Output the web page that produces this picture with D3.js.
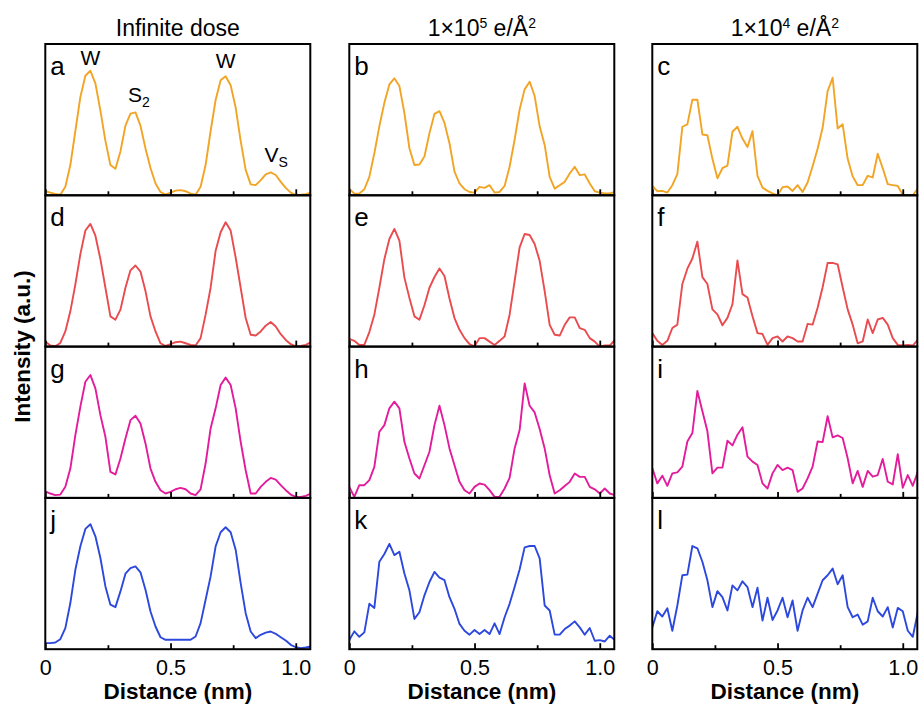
<!DOCTYPE html>
<html>
<head>
<meta charset="utf-8">
<script src="https://cdn.jsdelivr.net/npm/d3@7"></script>
<style>
  html, body { margin: 0; padding: 0; background: #fff; }
  svg { display: block; }
  text { font-family: Arial, "Liberation Sans", sans-serif; fill: #000; }
</style>
</head>
<body>
<svg id="chart" width="921" height="704"></svg>
<script>
// Line-profile sampling positions (nm)
const distance = [0.00,0.02,0.04,0.06,0.08,0.10,0.12,0.14,0.16,0.18,0.20,0.22,0.24,0.26,0.28,0.30,0.32,0.34,
  0.36,0.38,0.40,0.42,0.44,0.46,0.48,0.50,0.52,0.54,0.56,0.58,0.60,0.62,0.64,0.66,0.68,0.70,
  0.72,0.74,0.76,0.78,0.80,0.82,0.84,0.86,0.88,0.90,0.92,0.94,0.96,0.98,1.00,1.02,1.04,1.06];

const columnTitles = ["Infinite dose", "1\u00d710|5| e/\u00c5|2|", "1\u00d710|4| e/\u00c5|2|"];
const rowColors = ["#F2A424", "#E94B4F", "#E31C9C", "#2D48DD"];
const xTickValues = [0, 0.25, 0.5, 0.75, 1.0];
const xTickLabels = ["0", "", "0.5", "", "1.0"];

// Normalised intensity profiles (a.u.), one per panel
const profileA = [0.027,0.018,0.009,0.004,0.056,0.20,0.425,0.65,0.79,0.823,0.74,0.56,0.36,0.20,0.175,0.29,0.46,0.54,
  0.548,0.46,0.31,0.18,0.078,0.022,0.004,0.018,0.031,0.034,0.027,0.011,0.004,0.056,0.20,0.425,0.63,0.76,
  0.787,0.727,0.58,0.36,0.168,0.072,0.067,0.10,0.139,0.152,0.134,0.089,0.049,0.018,0.002,0.004,0.007,0.018];
const profileB = [0.044,0.011,0.011,0.04,0.122,0.278,0.456,0.611,0.733,0.773,0.722,0.544,0.311,0.2,0.204,0.256,0.411,0.538,
  0.556,0.478,0.344,0.156,0.078,0.04,0.022,0.018,0.056,0.049,0.067,0.018,0.022,0.062,0.189,0.367,0.567,0.70,
  0.751,0.656,0.456,0.333,0.122,0.044,0.067,0.089,0.144,0.189,0.133,0.138,0.078,0.027,0.018,0.013,0.013,0.022];
const profileC = [0.062,0.027,0.029,0.018,0.067,0.14,0.453,0.469,0.632,0.632,0.402,0.397,0.241,0.112,0.179,0.196,0.42,0.453,
  0.375,0.319,0.424,0.129,0.051,0.029,0.013,0.0,0.054,0.058,0.029,0.067,0.022,0.085,0.192,0.308,0.446,0.688,
  0.777,0.442,0.469,0.241,0.125,0.067,0.067,0.129,0.118,0.275,0.179,0.074,0.067,0.062,0.004,0.0,0.0,0.045];
const profileD = [0.033,0.007,0.002,0.024,0.1,0.233,0.411,0.611,0.767,0.811,0.733,0.578,0.389,0.2,0.178,0.244,0.389,0.504,
  0.536,0.496,0.367,0.2,0.1,0.022,0.004,0.016,0.029,0.033,0.022,0.011,0.007,0.056,0.211,0.389,0.633,0.756,
  0.822,0.767,0.589,0.389,0.189,0.078,0.073,0.1,0.138,0.162,0.133,0.082,0.044,0.016,0.002,0.004,0.011,0.029];
const profileE = [0.051,0.038,0.011,0.011,0.096,0.211,0.389,0.578,0.711,0.778,0.70,0.456,0.322,0.2,0.178,0.273,0.389,0.46,
  0.516,0.467,0.318,0.189,0.111,0.056,0.016,0.002,0.056,0.056,0.033,0.011,0.038,0.067,0.211,0.433,0.656,0.744,
  0.738,0.678,0.567,0.367,0.144,0.078,0.073,0.144,0.193,0.193,0.122,0.111,0.056,0.033,0.0,0.007,0.007,0.044];
const profileF = [0.089,0.038,0.011,0.038,0.123,0.145,0.414,0.515,0.582,0.694,0.459,0.414,0.246,0.213,0.141,0.19,0.28,0.57,
  0.347,0.324,0.201,0.089,0.083,0.011,0.056,0.067,0.034,0.067,0.056,0.034,0.034,0.15,0.145,0.257,0.392,0.553,
  0.553,0.544,0.392,0.246,0.145,0.022,0.034,0.179,0.089,0.179,0.19,0.145,0.056,0.011,0.007,0.011,0.007,0.045];
const profileG = [0.044,0.029,0.018,0.022,0.073,0.194,0.415,0.603,0.768,0.812,0.724,0.547,0.404,0.172,0.155,0.26,0.393,0.514,
  0.543,0.492,0.36,0.194,0.106,0.051,0.029,0.04,0.057,0.066,0.057,0.029,0.018,0.057,0.227,0.459,0.592,0.746,
  0.795,0.746,0.592,0.371,0.183,0.029,0.029,0.073,0.106,0.132,0.121,0.084,0.051,0.022,0.007,0.007,0.013,0.029];
const profileH = [0.073,0.007,0.084,0.084,0.117,0.205,0.437,0.481,0.592,0.636,0.592,0.371,0.26,0.161,0.128,0.216,0.305,0.481,
  0.609,0.481,0.327,0.216,0.106,0.051,0.029,0.073,0.095,0.088,0.051,0.007,0.007,0.062,0.132,0.327,0.448,0.757,
  0.609,0.565,0.455,0.327,0.15,0.029,0.051,0.079,0.106,0.161,0.139,0.139,0.073,0.057,0.029,0.062,0.029,0.018];
const profileI = [0.196,0.096,0.147,0.08,0.162,0.169,0.207,0.373,0.429,0.707,0.573,0.44,0.162,0.2,0.2,0.378,0.347,0.418,
  0.467,0.273,0.24,0.218,0.096,0.062,0.162,0.218,0.184,0.2,0.184,0.04,0.062,0.129,0.207,0.373,0.369,0.54,
  0.40,0.413,0.396,0.262,0.096,0.178,0.073,0.178,0.14,0.151,0.258,0.107,0.089,0.289,0.067,0.151,0.08,0.173];
const profileJ = [0.04,0.04,0.044,0.066,0.139,0.305,0.525,0.68,0.795,0.826,0.746,0.603,0.415,0.294,0.278,0.382,0.499,0.536,
  0.547,0.508,0.393,0.249,0.15,0.079,0.062,0.062,0.062,0.062,0.062,0.062,0.084,0.172,0.327,0.481,0.68,0.773,
  0.806,0.773,0.658,0.437,0.238,0.117,0.073,0.095,0.11,0.117,0.102,0.079,0.057,0.029,0.013,0.007,0.011,0.018];
const profileK = [0.06,0.118,0.082,0.111,0.30,0.273,0.578,0.629,0.696,0.622,0.644,0.50,0.389,0.20,0.244,0.356,0.444,0.511,
  0.473,0.456,0.344,0.267,0.167,0.122,0.096,0.127,0.10,0.127,0.10,0.171,0.10,0.211,0.30,0.411,0.527,0.673,
  0.682,0.682,0.60,0.289,0.256,0.096,0.096,0.133,0.156,0.184,0.144,0.096,0.14,0.056,0.06,0.051,0.089,0.06];
const profileL = [0.144,0.251,0.216,0.271,0.122,0.289,0.489,0.493,0.682,0.667,0.578,0.456,0.278,0.384,0.344,0.256,0.422,0.389,
  0.449,0.411,0.278,0.407,0.189,0.34,0.193,0.256,0.34,0.211,0.322,0.122,0.256,0.34,0.278,0.367,0.456,0.489,
  0.533,0.429,0.489,0.278,0.211,0.229,0.162,0.184,0.34,0.251,0.216,0.278,0.144,0.273,0.251,0.122,0.082,0.244];

// Peak labels on the first panel
const peakLabels = [
  { main: "W", sub: "", x: 0.18, y: 0.861 },
  { main: "S", sub: "2", x: 0.374, y: 0.617 },
  { main: "W", sub: "", x: 0.72, y: 0.841 },
  { main: "V", sub: "S", x: 0.922, y: 0.22 }
];

const panels = [
  { letter: "a", row: 0, col: 0, values: profileA },
  { letter: "b", row: 0, col: 1, values: profileB },
  { letter: "c", row: 0, col: 2, values: profileC },
  { letter: "d", row: 1, col: 0, values: profileD },
  { letter: "e", row: 1, col: 1, values: profileE },
  { letter: "f", row: 1, col: 2, values: profileF },
  { letter: "g", row: 2, col: 0, values: profileG },
  { letter: "h", row: 2, col: 1, values: profileH },
  { letter: "i", row: 2, col: 2, values: profileI },
  { letter: "j", row: 3, col: 0, values: profileJ },
  { letter: "k", row: 3, col: 1, values: profileK },
  { letter: "l", row: 3, col: 2, values: profileL }
];

// Layout
const colLeft = [45.3, 349.3, 652.3];
const panelW = 265;
const top0 = 44;
const panelH = 151.3;
const xMax = 1.058;

const svg = d3.select("#chart");

function superText(sel, spec, supSize) {
  // spec uses |...| to mark superscript runs
  const parts = spec.split("|");
  parts.forEach((p, i) => {
    if (!p) return;
    const t = sel.append("tspan").text(p);
    if (i % 2 === 1) t.attr("baseline-shift", "super").attr("font-size", supSize);
  });
}

panels.forEach(p => {
  const x0 = colLeft[p.col];
  const y0 = top0 + p.row * panelH;
  const g = svg.append("g").attr("transform", `translate(${x0},${y0})`);
  const x = d3.scaleLinear().domain([0, xMax]).range([0, panelW]);
  const y = d3.scaleLinear().domain([0, 1]).range([panelH, 0]);

  const clipId = "clip-" + p.letter;
  g.append("clipPath").attr("id", clipId)
    .append("rect").attr("width", panelW).attr("height", panelH);

  const line = d3.line()
    .x((d, i) => x(distance[i]))
    .y(d => y(d));

  g.append("path")
    .datum(p.values)
    .attr("clip-path", `url(#${clipId})`)
    .attr("fill", "none")
    .attr("stroke", rowColors[p.row])
    .attr("stroke-width", 1.9)
    .attr("stroke-linejoin", "round")
    .attr("d", line);

  // inward ticks on the bottom edge
  const axis = d3.axisBottom(x)
    .tickValues(xTickValues)
    .tickSize(-5)
    .tickFormat(() => "");
  const ax = g.append("g").attr("transform", `translate(0,${panelH})`).call(axis);
  ax.select(".domain").remove();
  ax.selectAll(".tick line")
    .attr("stroke", "#000")
    .attr("stroke-width", 1.8)
    .attr("y2", (d) => (d === 0.25 || d === 0.75) ? -4 : -6);

  if (p.row === 3) {
    ax.selectAll(".tick text").remove();
    ax.selectAll(".tick")
      .append("text")
      .attr("y", 25.8)
      .attr("text-anchor", "middle")
      .attr("font-size", 21.5)
      .text((d, i) => xTickLabels[i]);
    g.append("text")
      .attr("x", panelW / 2)
      .attr("y", panelH + 50.3)
      .attr("text-anchor", "middle")
      .attr("font-size", 22.5)
      .attr("font-weight", "bold")
      .text("Distance (nm)");
  }

  g.append("rect")
    .attr("width", panelW).attr("height", panelH)
    .attr("fill", "none").attr("stroke", "#000").attr("stroke-width", 2);

  g.append("text")
    .attr("x", 5).attr("y", 31)
    .attr("font-size", 26)
    .text(p.letter);

  if (p.letter === "a") {
    peakLabels.forEach(l => {
      const t = g.append("text")
        .attr("x", x(l.x)).attr("y", y(l.y))
        .attr("text-anchor", "middle")
        .attr("font-size", 21);
      t.append("tspan").text(l.main);
      if (l.sub) t.append("tspan").attr("font-size", 14).attr("dy", 5).text(l.sub);
    });
  }
});

// column titles
columnTitles.forEach((title, c) => {
  const t = svg.append("text")
    .attr("x", colLeft[c] + panelW / 2)
    .attr("y", 36)
    .attr("text-anchor", "middle")
    .attr("font-size", 23);
  superText(t, title, 14);
});

// shared y title
svg.append("text")
  .attr("transform", `translate(30,${top0 + 2 * panelH}) rotate(-90)`)
  .attr("text-anchor", "middle")
  .attr("font-size", 22.5)
  .attr("font-weight", "bold")
  .text("Intensity (a.u.)");
</script>
</body>
</html>
